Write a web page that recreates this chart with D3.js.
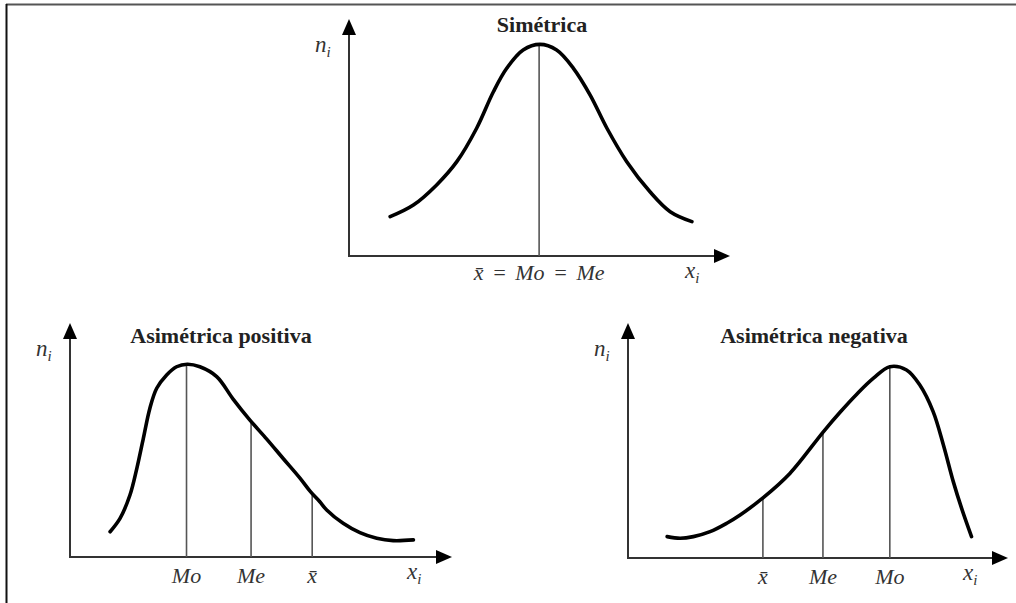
<!DOCTYPE html>
<html>
<head>
<meta charset="utf-8">
<script src="https://cdn.jsdelivr.net/npm/d3@7"></script>
<style>
  body { margin: 0; background: #fff; }
  svg { display: block; }
  text { font-family: "Liberation Serif", "Times New Roman", serif; }
</style>
</head>
<body>
<script>
// ---- Curve samples (x: variable, y: frequency), one pair of arrays per distribution ----
const symX = [1.08, 1.69, 2.30, 2.83, 3.35, 3.79, 4.14, 4.57, 5.01, 5.45, 5.89, 6.33, 6.77, 7.29, 7.90, 8.43, 9.00];
const symY = [1.66, 2.15, 3.00, 3.98, 5.39, 6.93, 7.92, 8.69, 8.93, 8.69, 7.92, 6.79, 5.39, 3.98, 2.71, 1.87, 1.45];

const posX = [1.05, 1.31, 1.57, 1.75, 1.92, 2.09, 2.27, 2.53, 2.79, 3.07, 3.40, 3.84, 4.27, 4.71, 5.15, 5.58, 6.02, 6.30, 6.54, 6.72, 7.15, 7.59, 8.03, 8.46, 8.99];
const posY = [1.08, 1.65, 2.65, 3.79, 5.07, 6.35, 7.21, 7.78, 8.13, 8.24, 8.13, 7.71, 6.75, 5.85, 5.04, 4.21, 3.37, 2.78, 2.36, 2.01, 1.44, 1.04, 0.80, 0.70, 0.73];

const negX = [1.03, 1.37, 1.72, 2.16, 2.60, 2.95, 3.56, 4.26, 5.14, 5.58, 6.02, 6.46, 6.89, 7.33, 7.68, 8.03, 8.30, 8.56, 8.78, 9.04];
const negY = [0.91, 0.84, 0.91, 1.12, 1.48, 1.83, 2.57, 3.60, 5.37, 6.20, 6.97, 7.65, 8.14, 8.00, 7.36, 6.23, 4.81, 3.25, 2.11, 0.91];

// ---- Central-tendency positions and their labels ----
const symMarkX = [4.99];
const symMarkLabels = ["x\u0304 = Mo = Me"];
const posMarkX = [3.05, 4.74, 6.34];
const posMarkLabels = ["Mo", "Me", "x\u0304"];
const negMarkX = [3.55, 5.13, 6.89];
const negMarkLabels = ["x\u0304", "Me", "Mo"];

const titles = ["Simétrica", "Asimétrica positiva", "Asimétrica negativa"];
const axisLabelY = ["n", "i"];
const axisLabelX = ["x", "i"];

const W = 1016, H = 603;
const svg = d3.select("body").append("svg").attr("width", W).attr("height", H);

// Frame edges
svg.append("line").attr("x1", 6).attr("x2", W).attr("y1", 4.5).attr("y2", 4.5)
  .attr("stroke", "#555").attr("stroke-width", 2);
svg.append("line").attr("x1", 6.5).attr("x2", 6.5).attr("y1", 4).attr("y2", H)
  .attr("stroke", "#111").attr("stroke-width", 2);

// Italic serif label
function italic(g, x, y, anchor, size) {
  return g.append("text").attr("x", x).attr("y", y)
    .attr("font-style", "italic")
    .attr("text-anchor", anchor).attr("font-size", size).attr("fill", "#333");
}

const panels = [
  { ox: 349, oy: 256, w: 381, h: 237, titleX: 542, titleY: 32,
    xs: symX, ys: symY, marks: symMarkX, labels: symMarkLabels, title: titles[0], labelDy: 24 },
  { ox: 70, oy: 557, w: 382, h: 234, titleX: 221, titleY: 343,
    xs: posX, ys: posY, marks: posMarkX, labels: posMarkLabels, title: titles[1], labelDy: 26 },
  { ox: 628, oy: 558, w: 380, h: 235, titleX: 814, titleY: 343,
    xs: negX, ys: negY, marks: negMarkX, labels: negMarkLabels, title: titles[2], labelDy: 26 }
];

const axisColor = "#333";

panels.forEach(p => {
  const x = d3.scaleLinear().domain([0, 10]).range([p.ox, p.ox + p.w]);
  const y = d3.scaleLinear().domain([0, 10]).range([p.oy, p.oy - p.h]);
  const g = svg.append("g");
  const aLen = 16, aHalf = 7;

  // Axes with arrowheads
  g.append("line").attr("x1", x(0)).attr("x2", x(10) - aLen + 2).attr("y1", y(0)).attr("y2", y(0))
    .attr("stroke", axisColor).attr("stroke-width", 2);
  g.append("line").attr("x1", x(0)).attr("x2", x(0)).attr("y1", y(0) + 1).attr("y2", y(10) + aLen - 2)
    .attr("stroke", axisColor).attr("stroke-width", 2);
  g.append("path")
    .attr("d", `M${x(10)},${y(0)} L${x(10) - aLen},${y(0) - aHalf} L${x(10) - aLen},${y(0) + aHalf} Z`)
    .attr("fill", "#000");
  g.append("path")
    .attr("d", `M${x(0)},${y(10)} L${x(0) - aHalf},${y(10) + aLen} L${x(0) + aHalf},${y(10) + aLen} Z`)
    .attr("fill", "#000");

  // Distribution curve
  const pts = p.xs.map((v, i) => [v, p.ys[i]]);
  const line = d3.line().x(d => x(d[0])).y(d => y(d[1])).curve(d3.curveCatmullRom.alpha(0.5));
  const curve = g.append("path").attr("d", line(pts))
    .attr("fill", "none").attr("stroke", "#000").attr("stroke-width", 3.6)
    .attr("stroke-linecap", "round").attr("stroke-linejoin", "round");

  // Height of the curve at a given pixel x, found along the drawn path
  const node = curve.node();
  const total = node.getTotalLength();
  function curveYAt(px) {
    let lo = 0, hi = total;
    for (let k = 0; k < 40; k++) {
      const mid = (lo + hi) / 2;
      if (node.getPointAtLength(mid).x < px) lo = mid; else hi = mid;
    }
    return node.getPointAtLength((lo + hi) / 2).y;
  }

  // Vertical lines for mean / median / mode, with labels
  p.marks.forEach((m, i) => {
    const px = x(m);
    g.insert("line", "path")
      .attr("x1", px).attr("x2", px).attr("y1", y(0)).attr("y2", curveYAt(px))
      .attr("stroke", "#555").attr("stroke-width", 1.6);
    italic(g, px, y(0) + p.labelDy, "middle", 22)
      .attr("word-spacing", p.labels[i].length > 4 ? 3 : 0)
      .text(p.labels[i]);
  });

  // Title
  g.append("text").attr("x", p.titleX).attr("y", p.titleY).attr("text-anchor", "middle")
    .attr("font-weight", "bold").attr("font-size", 22).attr("fill", "#222").text(p.title);

  // Axis names n_i and x_i
  const ny = italic(g, x(0) - 34, y(10) + 33, "start", 23);
  ny.append("tspan").text(axisLabelY[0]);
  ny.append("tspan").attr("dy", 5).attr("font-size", 15).text(axisLabelY[1]);

  const nx = italic(g, x(10) - 45, y(0) + 22, "start", 23);
  nx.append("tspan").text(axisLabelX[0]);
  nx.append("tspan").attr("dy", 5).attr("font-size", 15).text(axisLabelX[1]);
});
</script>
</body>
</html>
